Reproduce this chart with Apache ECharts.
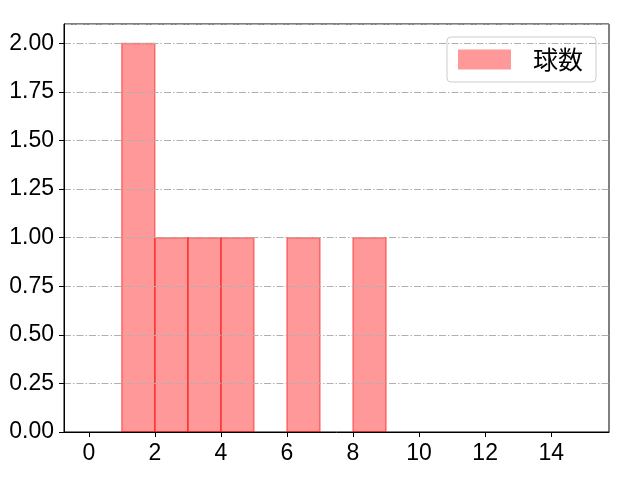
<!DOCTYPE html>
<html lang="ja">
<head>
    <meta charset="UTF-8">
    <script type="text/javascript" src="https://cdn.jsdelivr.net/npm/echarts@6/dist/echarts.min.js"></script>
    <style type="text/css">
        body { margin: 0; }
        #chart { width: 640px; height: 480px; }
    </style>
</head>
<body>
    <div id="chart"></div>
    <script type="text/javascript">
        // ヒストグラムの各ビン (左端, 右端, 度数)
        let binStart = [1, 2, 3, 4, 6, 8]
        let binEnd = [2, 3, 4, 5, 7, 9]
        let counts = [2, 1, 1, 1, 1, 1]
        let xTicks = [0, 2, 4, 6, 8, 10, 12, 14]
        let seriesName = '球数'

        let font = '"Liberation Sans", Arial, sans-serif'
        let jpFont = '"Noto Sans CJK JP", sans-serif'

        let data = []
        for (let i = 0; i < counts.length; i++) {
            data.push([binStart[i], binEnd[i], counts[i]])
        }

        var myChart = echarts.init(document.getElementById('chart'))
        var option = {
            animation: false,
            grid: {
                left: 64, right: 31, top: 24, bottom: 48,
                show: true, borderColor: '#000', borderWidth: 1, backgroundColor: '#fff'
            },
            legend: {
                right: 44, top: 37,
                itemWidth: 53, itemHeight: 20, itemGap: 10,
                padding: [10, 13, 10, 11],
                borderColor: '#cccccc', borderWidth: 1, borderRadius: 4,
                textStyle: { fontFamily: jpFont, fontSize: 25, color: '#000', padding: [0, 0, 0, 17] },
                data: [{ name: seriesName, icon: 'rect' }]
            },
            xAxis: {
                type: 'value', min: -0.75, max: 15.75, z: 11,
                axisLine: { onZero: false, lineStyle: { color: '#000' } },
                axisTick: { inside: false, length: 5, lineStyle: { color: '#000' }, customValues: xTicks },
                axisLabel: { fontFamily: font, fontSize: 23, color: '#000', margin: 10, customValues: xTicks },
                splitLine: { show: false }
            },
            yAxis: {
                type: 'value', min: 0, max: 2.1, interval: 0.25, z: 10,
                axisLine: { show: true, onZero: false, lineStyle: { color: '#000' } },
                axisTick: { show: true, length: 5, lineStyle: { color: '#000' } },
                axisLabel: {
                    fontFamily: font, fontSize: 23, color: '#000', margin: 10, showMaxLabel: false,
                    formatter: (v) => v.toFixed(2)
                },
                splitLine: { show: true, lineStyle: { color: '#b0b0b0', width: 1, type: [7, 2, 1.5, 2] } }
            },
            series: [{
                name: seriesName,
                type: 'custom',
                itemStyle: { color: 'rgba(255,0,0,0.4)', borderColor: 'rgba(255,0,0,0.45)' },
                encode: { x: [0, 1], y: 2 },
                renderItem: function (params, api) {
                    let p0 = api.coord([api.value(0), api.value(2)])
                    let p1 = api.coord([api.value(1), 0])
                    return {
                        type: 'rect',
                        shape: { x: p0[0], y: p0[1], width: p1[0] - p0[0], height: p1[1] - p0[1] },
                        style: { fill: 'rgba(255,0,0,0.4)', stroke: 'rgba(255,0,0,0.45)', lineWidth: 1.5 }
                    }
                },
                data: data
            }]
        }
        myChart.setOption(option)
    </script>
</body>
</html>
